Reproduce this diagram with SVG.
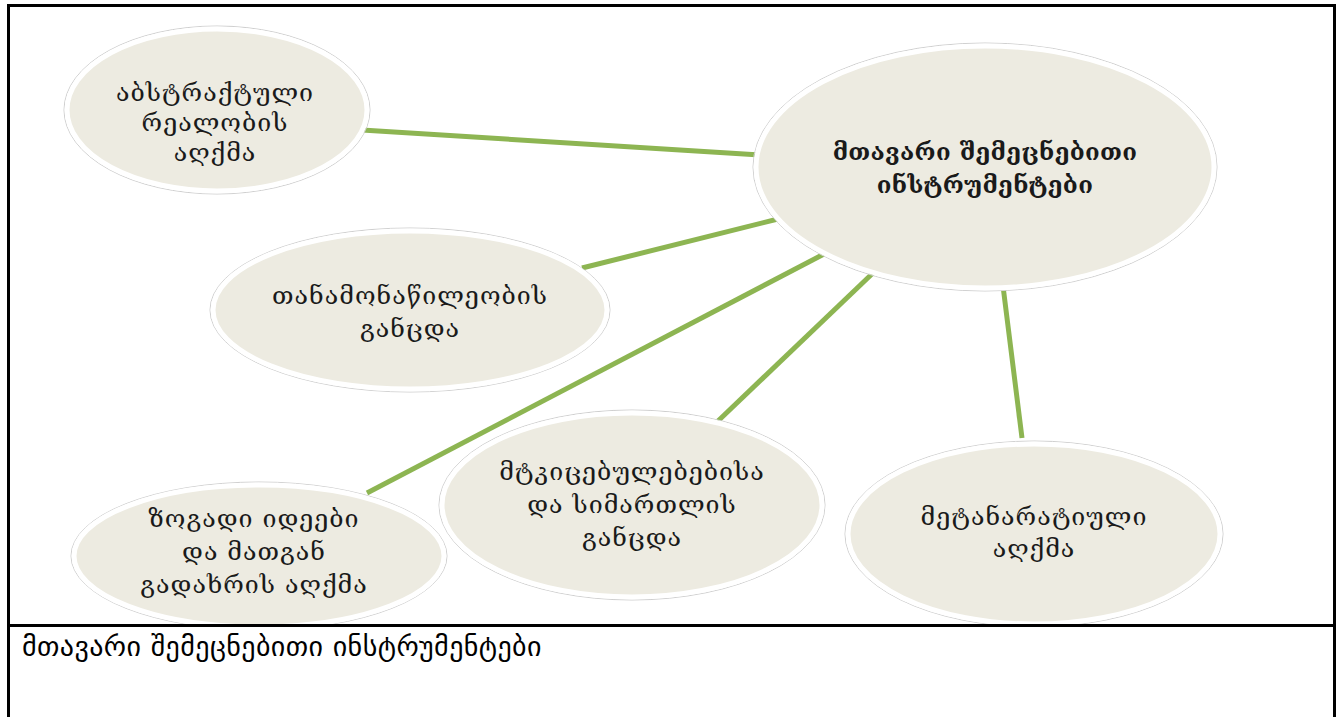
<svg xmlns="http://www.w3.org/2000/svg" width="1340" height="717" viewBox="0 0 1340 717">
<style>
.node ellipse.bg{fill:#EDEBE1;stroke:#ffffff;stroke-width:5}
.node ellipse.rim{fill:none;stroke:#cfcfcf;stroke-width:1}
.node text{font-family:"DejaVu Serif","Liberation Serif",serif;font-size:25px;fill:#1a1a1a;text-anchor:middle;letter-spacing:1px}
.node text.main{font-weight:bold;font-size:24px;letter-spacing:0.3px}
.conn line{stroke:#8DB552;stroke-width:5;stroke-linecap:butt}
.frame{fill:none;stroke:#000;stroke-width:3}
.caption{font-family:"DejaVu Sans","Noto Sans",sans-serif;font-size:28px;letter-spacing:0.4px;fill:#000}
</style>
<defs>
<clipPath id="clip"><rect x="0" y="0" width="1340" height="624"/></clipPath>
</defs>
<rect x="0" y="0" width="1340" height="717" fill="#ffffff"/>
<g clip-path="url(#clip)">
<g class="conn" id="connectors">
<line x1="362" y1="130" x2="760" y2="155"/>
<line x1="582" y1="268" x2="782" y2="218"/>
<line x1="367" y1="493" x2="824" y2="254"/>
<line x1="718" y1="421" x2="874" y2="272"/>
<line x1="1003" y1="286" x2="1022" y2="438"/>
</g>
<g class="node" id="n-abstract">
<ellipse class="rim" cx="217" cy="110" rx="153" ry="84"/>
<ellipse class="bg" cx="217" cy="110" rx="150" ry="81"/>
<text x="215" y="101">აბსტრაქტული</text>
<text x="215" y="131">რეალობის</text>
<text x="215" y="161">აღქმა</text>
</g>
<g class="node" id="n-main">
<ellipse class="rim" cx="985" cy="167" rx="232" ry="124"/>
<ellipse class="bg" cx="985" cy="167" rx="229" ry="121"/>
<text class="main" x="985" y="160">მთავარი შემეცნებითი</text>
<text class="main" x="985" y="193">ინსტრუმენტები</text>
</g>
<g class="node" id="n-participation">
<ellipse class="rim" cx="410" cy="310" rx="200" ry="82"/>
<ellipse class="bg" cx="410" cy="310" rx="197" ry="79"/>
<text x="410" y="304">თანამონაწილეობის</text>
<text x="410" y="337">განცდა</text>
</g>
<g class="node" id="n-general">
<ellipse class="rim" cx="259" cy="556" rx="188" ry="74"/>
<ellipse class="bg" cx="259" cy="556" rx="185" ry="71"/>
<text x="254" y="527">ზოგადი იდეები</text>
<text x="254" y="560">და მათგან</text>
<text x="254" y="593">გადახრის აღქმა</text>
</g>
<g class="node" id="n-evidence">
<ellipse class="rim" cx="632" cy="505" rx="193" ry="95"/>
<ellipse class="bg" cx="632" cy="505" rx="190" ry="92"/>
<text x="632" y="480">მტკიცებულებებისა</text>
<text x="632" y="513">და სიმართლის</text>
<text x="632" y="546">განცდა</text>
</g>
<g class="node" id="n-metanarrative">
<ellipse class="rim" cx="1034" cy="534" rx="189" ry="93"/>
<ellipse class="bg" cx="1034" cy="534" rx="186" ry="90"/>
<text x="1034" y="525">მეტანარატიული</text>
<text x="1034" y="557">აღქმა</text>
</g>
</g>
<path class="frame" d="M8.5 740 V5.5 H1334.5 V740"/>
<line class="frame" x1="8.5" y1="625.5" x2="1334.5" y2="625.5"/>
<text class="caption" x="22" y="656">მთავარი შემეცნებითი ინსტრუმენტები</text>
</svg>
